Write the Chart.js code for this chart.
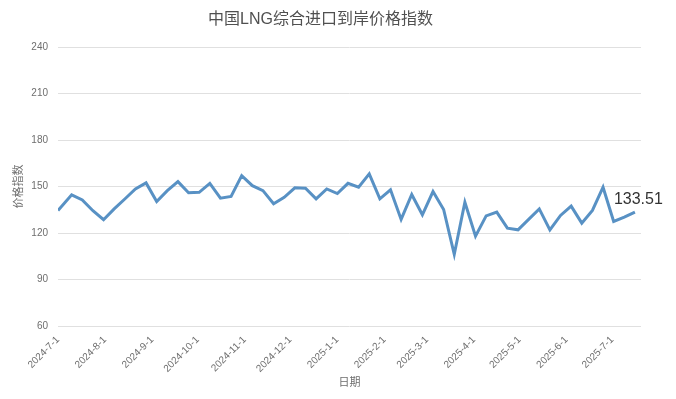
<!DOCTYPE html>
<html>
<head>
<meta charset="utf-8">
<script src="https://cdn.jsdelivr.net/npm/chart.js@4"></script>
<style>
  html, body { margin: 0; padding: 0; background: #fff; }
</style>
</head>
<body>
<canvas id="lngChart" width="676" height="399"></canvas>
<script>
const dates = [
  '2024-07-01', '2024-07-10', '2024-07-17', '2024-07-24', '2024-07-31',
  '2024-08-07', '2024-08-14', '2024-08-21', '2024-08-28',
  '2024-09-04', '2024-09-11', '2024-09-18', '2024-09-25',
  '2024-10-02', '2024-10-09', '2024-10-16', '2024-10-23', '2024-10-30',
  '2024-11-06', '2024-11-13', '2024-11-20', '2024-11-27',
  '2024-12-04', '2024-12-11', '2024-12-18', '2024-12-25',
  '2025-01-01', '2025-01-08', '2025-01-15', '2025-01-22', '2025-01-29',
  '2025-02-05', '2025-02-12', '2025-02-19', '2025-02-26',
  '2025-03-05', '2025-03-12', '2025-03-19', '2025-03-26',
  '2025-04-02', '2025-04-09', '2025-04-16', '2025-04-23', '2025-04-30',
  '2025-05-07', '2025-05-14', '2025-05-21', '2025-05-28',
  '2025-06-04', '2025-06-11', '2025-06-18', '2025-06-25',
  '2025-07-02', '2025-07-09', '2025-07-16'
];

const priceIndex = [
  134.6, 144.7, 141.4, 134.4, 128.6,
  135.6, 142.0, 148.5, 152.4,
  140.4, 147.4, 153.2, 146.0,
  146.3, 152.1, 142.5, 143.6, 157.1,
  150.6, 147.4, 138.9, 143.1,
  149.2, 148.9, 142.1, 148.5,
  145.5, 152.1, 149.6, 158.2, 142.1,
  147.9, 128.8, 144.9, 131.8,
  146.8, 135.2, 106.3, 139.9,
  118.0, 131.1, 133.5, 123.2, 122.1,
  128.8, 135.6, 122.1, 131.4,
  137.4, 126.4, 134.6, 149.6,
  127.5, 130.3, 133.51
];

const monthTicks = [
  '2024-7-1', '2024-8-1', '2024-9-1', '2024-10-1', '2024-11-1', '2024-12-1',
  '2025-1-1', '2025-2-1', '2025-3-1', '2025-4-1', '2025-5-1', '2025-6-1', '2025-7-1'
];

const yTicks = [60, 90, 120, 150, 180, 210, 240];

const lastLabel = '133.51';

// days since the first date, used as x value
function dayOf(str) {
  const [y, m, d] = str.split('-').map(Number);
  return Math.round((Date.UTC(y, m - 1, d) - Date.UTC(2024, 6, 1)) / 86400000);
}

const points = dates.map((d, i) => ({ x: dayOf(d), y: priceIndex[i] }));
const tickLabelByDay = {};
monthTicks.forEach(t => { tickLabelByDay[dayOf(t)] = t; });

const latin = "'Liberation Sans', 'Noto Sans CJK SC', sans-serif";

// value label at the end of the line
const endLabel = {
  id: 'endLabel',
  afterDatasetsDraw(chart) {
    const meta = chart.getDatasetMeta(0);
    const last = meta.data[meta.data.length - 1];
    const ctx = chart.ctx;
    ctx.save();
    ctx.font = '16px ' + latin;
    ctx.fillStyle = '#333333';
    ctx.textAlign = 'left';
    ctx.textBaseline = 'middle';
    ctx.fillText(lastLabel, last.x - 21, last.y - 13);
    ctx.restore();
  }
};

new Chart(document.getElementById('lngChart'), {
  type: 'line',
  data: {
    datasets: [{
      label: '价格指数',
      data: points,
      borderColor: '#5891c4',
      borderWidth: 3,
      pointRadius: 0,
      tension: 0,
      fill: false
    }]
  },
  options: {
    responsive: false,
    animation: false,
    layout: { padding: { left: 0, right: 35, top: 0, bottom: 0 } },
    plugins: {
      legend: { display: false },
      tooltip: { enabled: false },
      title: {
        display: true,
        text: '中国LNG综合进口到岸价格指数',
        color: '#505050',
        font: { family: latin, size: 16, weight: 'normal' },
        padding: { top: 10, bottom: 18 }
      }
    },
    scales: {
      x: {
        type: 'linear',
        min: 0,
        max: 384,
        afterBuildTicks: s => { s.ticks = monthTicks.map(t => ({ value: dayOf(t) })); },
        afterFit: s => { s.height = 73; },
        grid: { display: false },
        border: { display: false },
        ticks: {
          autoSkip: false,
          minRotation: 45,
          maxRotation: 45,
          padding: 0,
          color: '#6e6e6e',
          font: { family: latin, size: 10 },
          callback: v => tickLabelByDay[v] || ''
        },
        title: {
          display: true,
          text: '日期',
          color: '#6e6e6e',
          font: { family: latin, size: 11 },
          padding: { top: 0, bottom: 9 }
        }
      },
      y: {
        min: 60,
        max: 240,
        afterBuildTicks: s => { s.ticks = yTicks.map(v => ({ value: v })); },
        afterFit: s => { s.width = 58; },
        grid: { color: '#e0e0e0', lineWidth: 1, drawTicks: false },
        border: { display: false },
        ticks: {
          padding: 10,
          color: '#6e6e6e',
          font: { family: latin, size: 10 }
        },
        title: {
          display: true,
          text: '价格指数',
          color: '#6e6e6e',
          font: { family: latin, size: 11 },
          padding: { top: 12, bottom: 0 }
        }
      }
    }
  },
  plugins: [endLabel]
});
</script>
</body>
</html>
